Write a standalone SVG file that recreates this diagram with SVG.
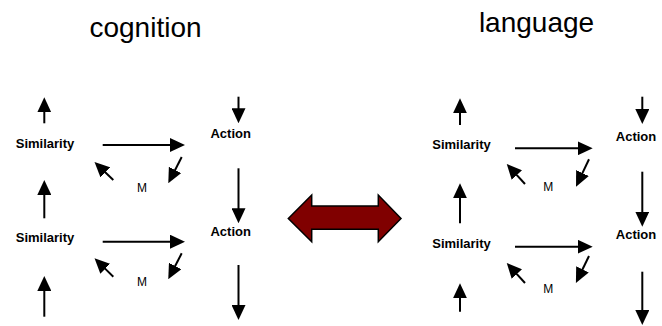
<svg xmlns="http://www.w3.org/2000/svg" width="662" height="326" viewBox="0 0 662 326">
<style>
text{font-family:"Liberation Sans",Arial,sans-serif;fill:#000}
.title{font-size:28px}
.lbl{font-size:13px;font-weight:bold;text-anchor:middle}
.m{font-size:12px;text-anchor:middle}
.arr{stroke:#000;stroke-width:2;fill:none;marker-end:url(#ah)}
</style>
<defs>
<marker id="ah" markerUnits="userSpaceOnUse" markerWidth="15" markerHeight="14" viewBox="0 0 15 14" refX="2" refY="7" orient="auto">
<path d="M0,0 L15,7 L0,14 z" fill="#000"/>
</marker>
</defs>
<rect width="662" height="326" fill="#fff"/>
<g id="title-cognition"><text class="title" x="145.5" y="37" text-anchor="middle">cognition</text></g>
<g id="title-language"><text class="title" x="536.5" y="32" text-anchor="middle">language</text></g>

<g id="L-similarity1"><text class="lbl" x="45" y="147.7">Similarity</text></g>
<g id="L-action1"><text class="lbl" x="230.7" y="138.3">Action</text></g>
<g id="L-m1"><text class="m" x="142" y="191.7">M</text></g>
<g id="L-similarity2"><text class="lbl" x="45" y="241.7">Similarity</text></g>
<g id="L-action2"><text class="lbl" x="230.7" y="235.7">Action</text></g>
<g id="L-m2"><text class="m" x="142" y="286">M</text></g>

<g id="R-similarity1"><text class="lbl" x="461.5" y="149">Similarity</text></g>
<g id="R-action1"><text class="lbl" x="636" y="140.7">Action</text></g>
<g id="R-m1"><text class="m" x="548.3" y="191">M</text></g>
<g id="R-similarity2"><text class="lbl" x="461.5" y="248.3">Similarity</text></g>
<g id="R-action2"><text class="lbl" x="636" y="239.3">Action</text></g>
<g id="R-m2"><text class="m" x="548.3" y="293.3">M</text></g>

<g id="double-arrow">
<polygon points="288.3,218.5 311.7,195 311.7,206 378.3,206 378.3,195 401,218.5 378.3,241.7 378.3,229.3 311.7,229.3 311.7,241.7" fill="#800000" stroke="#000" stroke-width="1.5" stroke-linejoin="miter"/>
</g>

<g id="connectors">
<line class="arr" x1="44.3" y1="123.3" x2="44.3" y2="110.3"/>
<line class="arr" x1="102.7" y1="145" x2="172" y2="145"/>
<line class="arr" x1="238.5" y1="96.7" x2="238.5" y2="110.3"/>
<line class="arr" x1="181.7" y1="157" x2="174.2" y2="171.7"/>
<line class="arr" x1="113.3" y1="180" x2="103.9" y2="171"/>
<line class="arr" x1="238.5" y1="168.3" x2="238.5" y2="210.3"/>
<line class="arr" x1="44.3" y1="218.3" x2="44.3" y2="193"/>
<line class="arr" x1="102.7" y1="241.7" x2="172" y2="241.7"/>
<line class="arr" x1="181.7" y1="253.3" x2="174.25" y2="267.7"/>
<line class="arr" x1="113.3" y1="276.7" x2="103.8" y2="267.4"/>
<line class="arr" x1="44.3" y1="316.7" x2="44.3" y2="289"/>
<line class="arr" x1="238.5" y1="265" x2="238.5" y2="307"/>

<line class="arr" x1="460" y1="125" x2="460" y2="111.3"/>
<line class="arr" x1="515" y1="148.3" x2="579.7" y2="148.3"/>
<line class="arr" x1="642.3" y1="96.7" x2="642.3" y2="111"/>
<line class="arr" x1="589" y1="159.3" x2="581.6" y2="174.9"/>
<line class="arr" x1="525" y1="184" x2="515.5" y2="173.6"/>
<line class="arr" x1="642.3" y1="171.7" x2="642.3" y2="213.7"/>
<line class="arr" x1="460" y1="223.3" x2="460" y2="196.3"/>
<line class="arr" x1="515" y1="246.7" x2="579.7" y2="246.7"/>
<line class="arr" x1="589" y1="256" x2="581.6" y2="271.2"/>
<line class="arr" x1="525" y1="283" x2="515.5" y2="272.6"/>
<line class="arr" x1="460" y1="311.7" x2="460" y2="296.3"/>
<line class="arr" x1="642.3" y1="271.7" x2="642.3" y2="312"/>
</g>
</svg>
